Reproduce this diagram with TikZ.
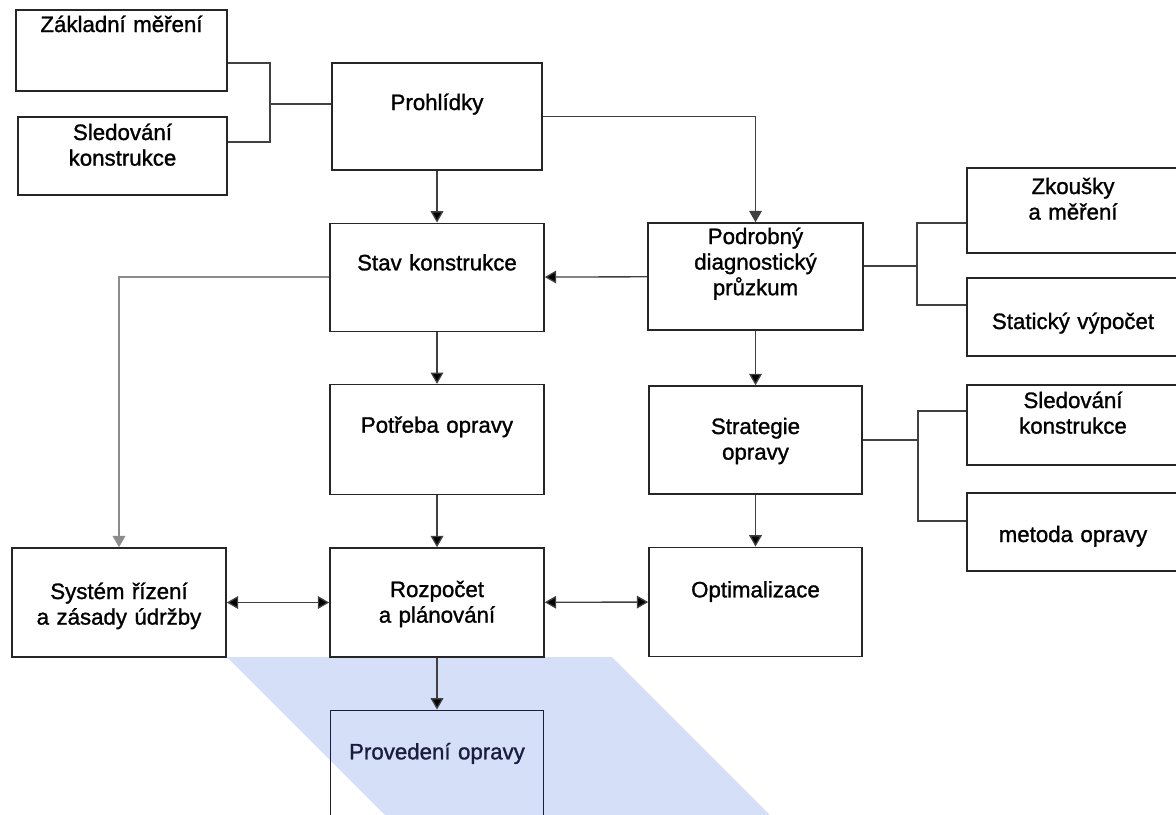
\documentclass[tikz,border=0pt]{standalone}
\usepackage{fontspec}
\setmainfont{Liberation Sans}
\newfontfamily\boxfont{Liberation Sans}[RawFeature={embolden=1.2}]
\usetikzlibrary{arrows.meta,positioning}
\newlength\pxu
\setlength\pxu{0.75pt}
\definecolor{modra}{RGB}{214,223,248}
\definecolor{tmava}{RGB}{25,30,62}
\begin{document}
\begin{tikzpicture}[x=0.75pt,y=-0.75pt,>={Triangle[length=8.5pt,width=9.5pt]},node distance=38.8pt,
    box/.style n args={3}{draw=black!85,line width=1.2pt,inner sep=0pt,align=center,
        text width=#1\pxu,text height=#2\pxu,text depth=#3\pxu,
        font=\boxfont\fontsize{16.7}{19.2}\selectfont},
    line/.style={draw=black!75,line width=1pt}]

    \useasboundingbox (0,0) rectangle (1176,814);

    \fill[modra] (227,657) -- (612,657) -- (775,820) -- (390,820) -- cycle;

    \node[box={211}{22}{59}] (zm) at (121.5,50.5) {Základní měření};
    \node[box={209}{23}{55}] (sk1) at (122.5,156) {Sledování\\konstrukce};
    \node[box={210}{47}{60}] (pr) at (437,116.5) {Prohlídky};
    \node[box={214}{47}{61}] (sk) [below=of pr] {Stav konstrukce};
    \node[box={214}{48}{62}] (po) [below=of sk] {Potřeba opravy};
    \node[box={214}{49}{60}] (rp) [below=of po] {Rozpočet\\a plánování};
    \node[box={213}{49}{63},draw=tmava,text=tmava] (pv) [below=of rp] {Provedení opravy};
    \node[box={214}{51}{58}] (sr) [left=76.8pt of rp] {Systém řízení\\a zásady údržby};
    \node[box={215}{21}{86}] (pdp) at (755.5,276.5) {Podrobný\\diagnostický\\průzkum};
    \node[box={213}{48}{60}] (so) [below=40.8pt of pdp] {Strategie\\opravy};
    \node[box={213}{50}{59}] (op) [below=of so] {Optimalizace};
    \node[box={212}{26}{59}] (zam) at (1073,210.5) {Zkoušky\\a měření};
    \node[box={212}{51}{27}] (sv) at (1073,317) {Statický výpočet};
    \node[box={212}{23}{57}] (sk2) at (1073,425) {Sledování\\konstrukce};
    \node[box={212}{49}{29}] (mo) at (1073,532) {metoda opravy};

    \coordinate (bl) at (270,104);
    \coordinate (bl1) at (270,63);
    \coordinate (bl2) at (270,142);
    \coordinate (br) at (917,266);
    \coordinate (br1) at (917,223);
    \coordinate (br2) at (917,305);
    \coordinate (bs) at (918,440);
    \coordinate (bs1) at (918,411);
    \coordinate (bs2) at (918,521);

    \path[->,line] (pr) edge (sk)
                   (sk) edge (po)
                   (po) edge (rp)
                   (rp) edge (pv)
                   (pdp) edge (sk)
                         edge (so)
                   (so) edge (op);
    \path[<->,line] (rp) edge (sr)
                         edge (op);
    \draw[->,line] (pr.east) -| (pdp.north);
    \draw[->,line,draw=black!45,line width=1.3pt] (sk.west) -| (sr.north);

    \draw[line] (zm.east |- bl1) -- (bl1) -- (bl2) -- (sk1.east |- bl2);
    \draw[line] (bl) -- (pr.west |- bl);
    \draw[line] (pdp.east |- br) -- (br);
    \draw[line] (zam.west |- br1) -- (br1) -- (br2) -- (sv.west |- br2);
    \draw[line] (so.east |- bs) -- (bs);
    \draw[line] (sk2.west |- bs1) -- (bs1) -- (bs2) -- (mo.west |- bs2);
\end{tikzpicture}
\end{document}
